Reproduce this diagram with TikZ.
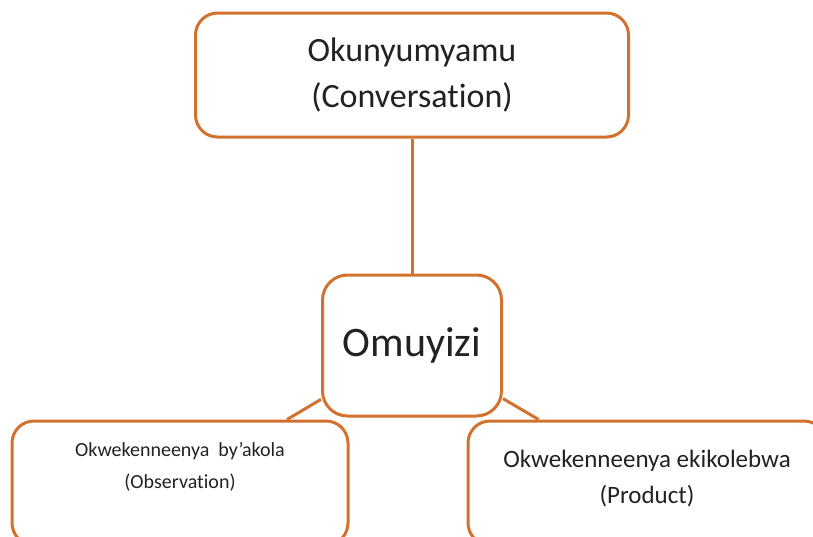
\documentclass[tikz,border=0pt]{standalone}
\usepackage{fontspec}
\setmainfont{Carlito}[Ligatures=NoCommon]
\definecolor{boxorange}{HTML}{D2722E}
\definecolor{ink}{HTML}{222222}
\begin{document}
\begin{tikzpicture}[x=1pt,y=-1pt,
    box/.style={draw=boxorange,line width=3pt,rounded corners=22pt,fill=white,
      text=ink,align=center,inner sep=0pt}]
      \useasboundingbox (0,0) rectangle (813,536);
      \clip (0,0) rectangle (813,536);
      \draw
        (412,75) node[box,minimum width=433pt,minimum height=124pt,
          font=\fontsize{34}{46}\selectfont] (conv){Okunyumyamu\\(Conversation)}
        (412,345.5) node[box,minimum width=179pt,minimum height=141pt,rounded corners=25pt,
          font=\fontsize{42}{50}\selectfont] (learner){Omuyizi}
        (180,483) node[box,minimum width=336pt,minimum height=124pt,text depth=36pt,
          font=\fontsize{20}{32}\selectfont] (observ){Okwekenneenya\ \ by’akola\\(Observation)}
        (647,483) node[box,minimum width=358pt,minimum height=124pt,text depth=13pt,
          font=\fontsize{25}{36}\selectfont] (product){Okwekenneenya ekikolebwa\\(Product)};
      \begin{scope}[boxorange,line width=3pt]
        \draw (conv) to (learner);
        \draw (learner) to (observ);
        \draw (learner) to (product);
      \end{scope}
    \end{tikzpicture}
\end{document}
